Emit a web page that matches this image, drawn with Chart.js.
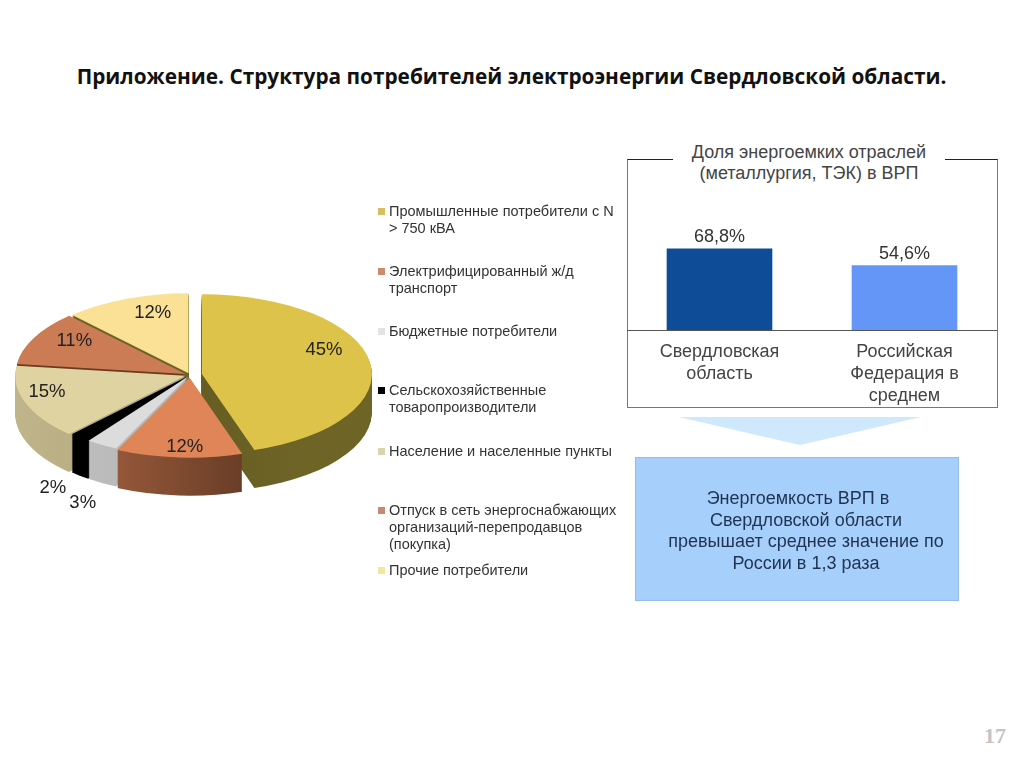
<!DOCTYPE html>
<html lang="ru">
<head>
<meta charset="utf-8">
<title>Структура потребителей электроэнергии</title>
<script src="https://cdn.jsdelivr.net/npm/chart.js@4/dist/chart.umd.min.js"></script>
<style>
  html, body { margin: 0; padding: 0; background: #fff; }
  body { position: relative; width: 1024px; height: 768px; overflow: hidden; font-family: "Liberation Sans", Arial, sans-serif; }
  canvas { position: absolute; }
  #title { position: absolute; left: 0; top: 62px; width: 1023px; text-align: center; font: bold 20.8px "Open Sans", sans-serif; color: #111; line-height: 28px; white-space: nowrap; }
  .legend-mark { position: absolute; left: 378px; width: 7px; height: 7px; }
  .legend-text { position: absolute; left: 389px; font-size: 14.5px; line-height: 17px; color: #333; white-space: nowrap; }
  #frame { position: absolute; left: 627px; top: 159px; width: 371px; height: 249px; box-sizing: border-box; border: 1.5px solid #777; border-top-color: #222; border-top-width: 1px; }
  #frameTitle { position: absolute; left: 673px; top: 142px; width: 272px; height: 43px; background: #fff; text-align: center; font-size: 18px; line-height: 21px; color: #444; white-space: nowrap; }
  #arrow { position: absolute; left: 679px; top: 417px; width: 242px; height: 28px; background: #cfe8fc; clip-path: polygon(0 0, 100% 0, 50% 100%); }
  #note { position: absolute; left: 635px; top: 457px; width: 324px; height: 144px; box-sizing: border-box; border: 1px solid #93bdee; background: #a6cffc; }
  #note div { position: absolute; left: 0; width: 342px; text-align: center; font-size: 18px; line-height: 22px; color: #1f3350; white-space: nowrap; }
  #page { position: absolute; left: 984px; top: 723px; font: bold 22px "Liberation Serif", serif; color: #c4c4c4; }
</style>
</head>
<body>
<div id="title">Приложение. Структура потребителей электроэнергии Свердловской области.</div>
<canvas id="pieChart" width="380" height="340" style="left:0;top:205px"></canvas>
<div id="legend"></div>
<div id="frame"></div>
<canvas id="barChart" width="370" height="248" style="left:627px;top:159px"></canvas>
<div id="frameTitle">Доля энергоемких отраслей<br>(металлургия, ТЭК) в ВРП</div>
<div id="arrow"></div>
<div id="note">
  <div style="top:29px;left:-9px">Энергоемкость ВРП в</div>
  <div style="top:51px;left:-1px">Свердловской области</div>
  <div style="top:72px;left:-1px">превышает среднее значение по</div>
  <div style="top:94px;left:-1px">России в 1,3 раза</div>
</div>
<div id="page">17</div>
<script>
// данные круговой диаграммы
const consumerLabels = [
    ['Промышленные потребители с N', '> 750 кВА'],
    ['Электрифицированный ж/д', 'транспорт'],
    ['Бюджетные потребители'],
    ['Сельскохозяйственные', 'товаропроизводители'],
    ['Население и населенные пункты'],
    ['Отпуск в сеть энергоснабжающих', 'организаций-перепродавцов', '(покупка)'],
    ['Прочие потребители']
];
const consumerShares = [45, 12, 3, 2, 15, 11, 12];
const sliceColors = ['#ddc349', '#df8557', '#dcdcdc', '#000000', '#e0d3a2', '#cc7c55', '#fae196'];
const legendColors = ['#d6bf5c', '#cf8a6e', '#e3e3e3', '#000000', '#d8d5ae', '#c98870', '#f4e69c'];
const legendTops = [203, 263, 323, 382, 443, 502, 562];

// данные столбчатой диаграммы
const regionLabels = [['Свердловская', 'область'], ['Российская', 'Федерация в', 'среднем']];
const regionShares = [68.8, 54.6];
const regionColors = ['#0f4c97', '#6496f8'];

// внешний вид объёмного круга
const tilt = 0.47;
const pieDepth = 38;
const sliceExplode = [12, 6, 3, 3, 5, 5, 4];
const sideColors = [
    ['#5a5220', '#6e6426'],
    ['#b56c49', '#59331f'],
    ['#c4c4c4', '#a8a8a8'],
    ['#000000', '#000000'],
    ['#c0b48a', '#a59b70'],
    ['#6b3a20', '#6b3a20'],
    ['#6b6224', '#6b6224']
];
const labelNudge = [[50, -19], [0, 32], [-64, 94], [-83, 82], [-63, 3], [-40, -16], [-6, -25]];

consumerLabels.forEach((lines, i) => {
    const mark = document.createElement('div');
    mark.className = 'legend-mark';
    mark.style.top = (legendTops[i] + 5) + 'px';
    mark.style.background = legendColors[i];
    const text = document.createElement('div');
    text.className = 'legend-text';
    text.style.top = legendTops[i] + 'px';
    text.innerHTML = lines.map(l => l.replace('>', '&gt;')).join('<br>');
    const box = document.getElementById('legend');
    box.appendChild(mark);
    box.appendChild(text);
});

const pie3d = {
    id: 'pie3d',
    beforeDatasetsDraw(chart) {
        const ctx = chart.ctx;
        const arcs = chart.getDatasetMeta(0).data;
        const midAngle = a => (a.startAngle + a.endAngle) / 2;
        // сначала дальние сектора, потом ближние
        const order = arcs.map((a, i) => i).sort((p, q) => Math.sin(midAngle(arcs[p])) - Math.sin(midAngle(arcs[q])));

        order.forEach(i => {
            const arc = arcs[i];
            const dx = Math.cos(midAngle(arc)) * sliceExplode[i];
            const dy = Math.sin(midAngle(arc)) * sliceExplode[i];
            const grad = ctx.createLinearGradient(arc.x - arc.outerRadius, 0, arc.x + arc.outerRadius * 0.6, 0);
            grad.addColorStop(0, sideColors[i][0]);
            grad.addColorStop(1, sideColors[i][1]);
            const side = Object.create(arc);
            side.options = { backgroundColor: grad, borderWidth: 0, borderRadius: 0, spacing: 0, offset: 0, borderAlign: 'center', circular: true };

            for (let d = pieDepth; d >= 0; d--) {
                ctx.save();
                ctx.translate(arc.x, arc.y + d);
                ctx.scale(1, tilt);
                ctx.translate(dx - arc.x, dy - arc.y);
                (d === 0 ? arc : side).draw(ctx);
                ctx.restore();
            }
        });

        ctx.save();
        ctx.font = '18.5px "Liberation Sans"';
        ctx.fillStyle = '#222';
        ctx.textAlign = 'center';
        ctx.textBaseline = 'middle';
        arcs.forEach((arc, i) => {
            const p = arc.tooltipPosition();
            const y = arc.y + (p.y - arc.y) * tilt;
            ctx.fillText(consumerShares[i] + '%', p.x + labelNudge[i][0], y + labelNudge[i][1]);
        });
        ctx.restore();
        return false;
    }
};

new Chart(document.getElementById('pieChart'), {
    type: 'pie',
    data: {
        labels: consumerLabels.map(l => l.join(' ')),
        datasets: [{ data: consumerShares, backgroundColor: sliceColors, borderWidth: 0 }]
    },
    options: {
        responsive: false,
        animation: false,
        radius: 170,
        layout: { padding: 0 },
        plugins: { legend: { display: false }, tooltip: { enabled: false } }
    },
    plugins: [pie3d]
});

const barValues = {
    id: 'barValues',
    afterDatasetsDraw(chart) {
        const ctx = chart.ctx;
        ctx.save();
        ctx.font = '18px "Liberation Sans"';
        ctx.fillStyle = '#333';
        ctx.textAlign = 'center';
        chart.getDatasetMeta(0).data.forEach((bar, i) => {
            ctx.fillText(String(regionShares[i]).replace('.', ',') + '%', bar.x, bar.y - 7);
        });
        ctx.restore();
    }
};

new Chart(document.getElementById('barChart'), {
    type: 'bar',
    data: {
        labels: regionLabels,
        datasets: [{ data: regionShares, backgroundColor: regionColors, barThickness: 105 }]
    },
    options: {
        responsive: false,
        animation: false,
        layout: { padding: 0 },
        plugins: { legend: { display: false }, tooltip: { enabled: false } },
        scales: {
            x: {
                grid: { display: false, drawTicks: false },
                border: { color: '#555', width: 1 },
                ticks: { color: '#444', padding: 11, maxRotation: 0, font: { size: 18, family: '"Liberation Sans"', lineHeight: 1.22 } },
                afterFit(scale) { scale.height = 77; }
            },
            y: { display: false, min: 0, max: 145 }
        }
    },
    plugins: [barValues]
});
</script>
</body>
</html>
